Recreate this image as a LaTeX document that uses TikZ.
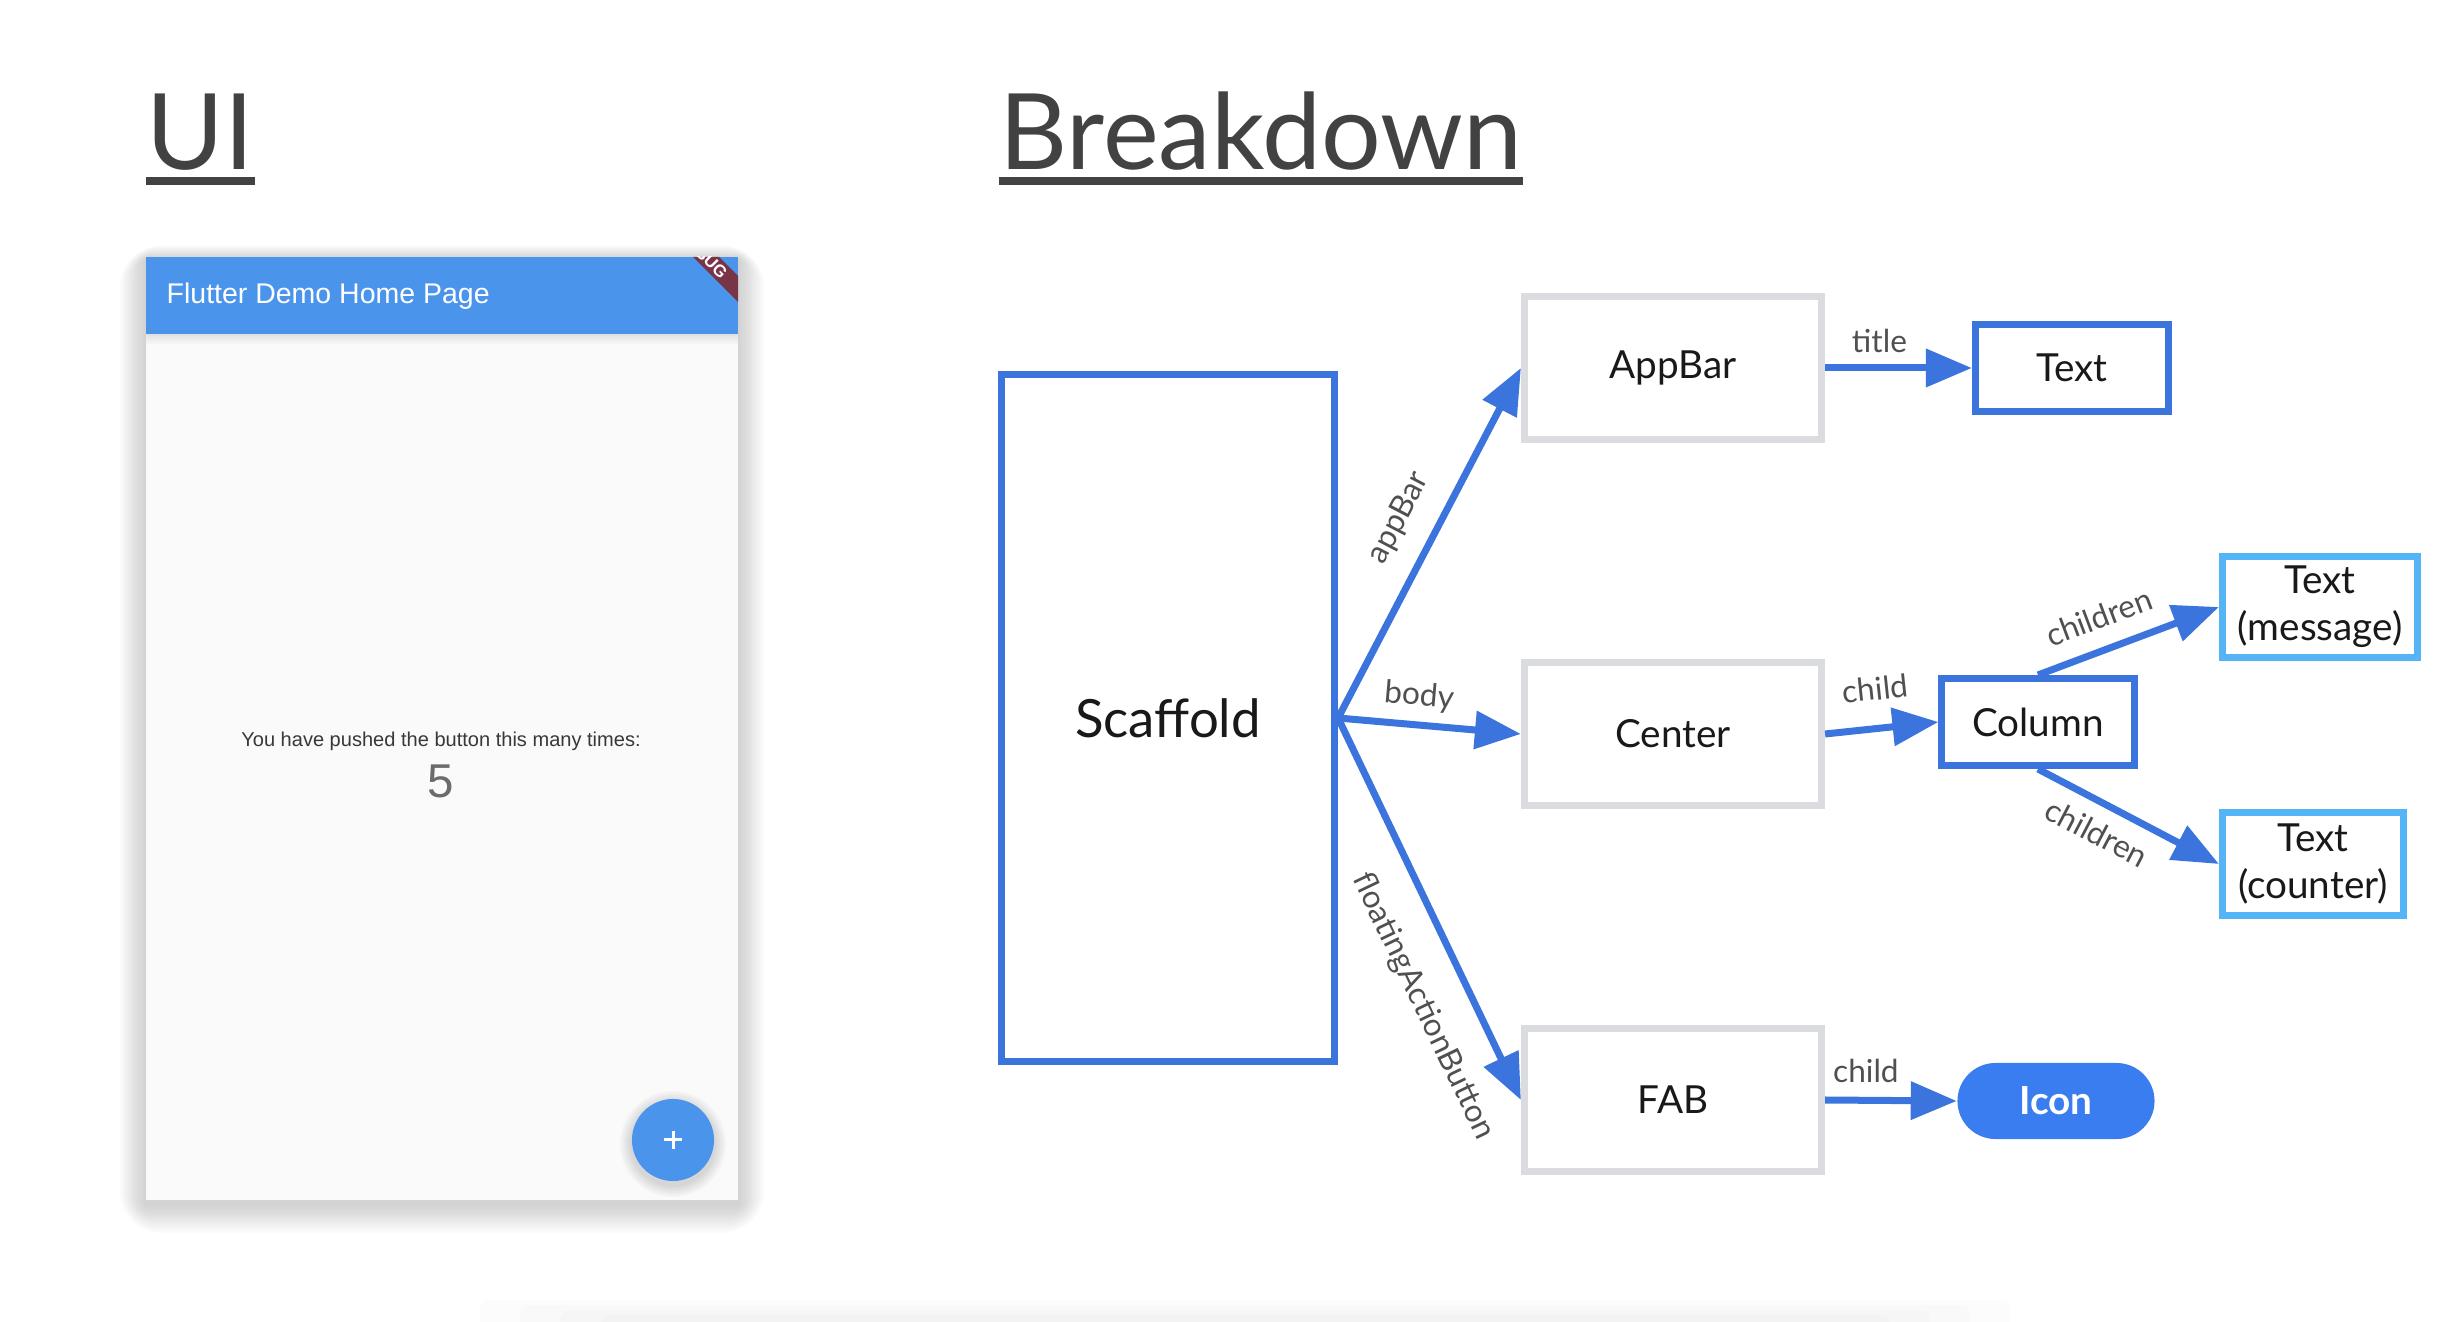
\documentclass[tikz,border=0pt]{standalone}
\usepackage{fontspec}
\setmainfont{Lato}
\newfontfamily\phonefont{Liberation Sans}
\usetikzlibrary{arrows.meta, positioning}

\definecolor{flblue}{RGB}{59,116,221}
\definecolor{fllight}{RGB}{84,180,245}
\definecolor{flgray}{RGB}{218,220,224}
\definecolor{flpill}{RGB}{57,125,240}
\definecolor{hdrblue}{RGB}{74,148,236}
\definecolor{ttlgray}{RGB}{66,66,66}
\definecolor{lblgray}{RGB}{80,80,80}
\definecolor{dbgred}{RGB}{122,52,72}
\definecolor{bodybg}{RGB}{250,250,250}

\begin{document}
\begin{tikzpicture}[x=0.01cm, y=-0.01cm,
  every node/.style={font=\fontsize{11}{13.4}\selectfont},
  ttl/.style={font=\fontsize{30}{36}\selectfont, text=ttlgray, inner sep=0pt, anchor=base west},
  widget/.style={rectangle, draw=#1, line width=0.07cm, fill=white, align=center,
                 text=black!90, minimum width=2.97cm, minimum height=1.43cm, inner sep=2pt},
  pill/.style={rectangle, rounded corners=0.38cm, fill=flpill, text=white,
               font=\fontsize{11}{13}\selectfont\bfseries, minimum width=1.97cm, minimum height=0.76cm},
  arr/.style={-{Triangle[length=0.46cm, width=0.37cm]}, line width=0.07cm, flblue},
  lbl/.style={font=\fontsize{9}{11}\selectfont, text=lblgray, inner sep=1pt},
  phonetxt/.style={font=\phonefont\fontsize{#1}{#1}\selectfont, inner sep=0pt},
]

\useasboundingbox (0,0) rectangle (2456,1322);

% Titres
\node[ttl] (ttl-ui) at (146,170) {UI};
\node[ttl] (ttl-bd) at (999,170) {Breakdown};
\foreach \t in {ttl-ui,ttl-bd}
  \draw[ttlgray, line width=0.08cm] ([yshift=-0.11cm]\t.base west) -- ([yshift=-0.11cm]\t.base east);

% Phone mock-up (shadow, body, app bar)
\foreach \i in {1,...,12}
  \fill[black, opacity=0.016, rounded corners=\i] (146-2.2*\i,257-1.2*\i+3) rectangle (738+2.2*\i,1200+2.4*\i+4);
\fill[bodybg] (146,257) rectangle (738,1200);
\foreach \i in {1,...,5}
  \fill[black, opacity=0.02] (146,334) rectangle (738,334+2*\i);
\fill[hdrblue] (146,257) rectangle (738,334);
\node[phonetxt=8.1, text=white, anchor=west] (hdr) at (166,296) {Flutter Demo Home Page};

% Debug banner
\begin{scope}
  \clip (146,257) rectangle (738,1200);
  \fill[dbgred] (693,257) -- (719,257) -- (760,298) -- (760,324) -- cycle;
  \node[text=white, font=\phonefont\bfseries\fontsize{4.8}{5}\selectfont, inner sep=0pt,
        rotate=-45] (dbg) at (703,254) {DEBUG};
\end{scope}

% Counter
\node[phonetxt=5.7, text=black!78] (msg) at (441,741) {You have pushed the button this many times:};
\node[phonetxt=13.5, text=black!58] (cnt) at (441,781) {5};

% FAB
\foreach \i in {1,...,6}
  \fill[black, opacity=0.025] (673,1144) circle ({0.41cm+\i*0.02cm});
\fill[hdrblue] (673,1140) circle (0.41cm);
\draw[white, line width=0.03cm] (664,1140) -- (682,1140) (673,1131) -- (673,1149);

% Widget tree
\node[widget=flblue, minimum width=3.33cm, minimum height=6.87cm,
      font=\fontsize{15}{18}\selectfont] (scaffold) at (1168,718) {Scaffold};
\node[widget=flgray] (appbar) at (1673,368) {AppBar};
\node[widget=flgray] (ctr)    at (1673,734) {Center};
\node[widget=flgray] (fab)    at (1673,1100) {FAB};
\node[widget=flblue, minimum width=1.93cm, minimum height=0.87cm] (titletxt) at (2072,368) {Text};
\node[widget=flblue, minimum width=1.92cm, minimum height=0.87cm] (column) at (2038,722) {Column};
\node[widget=fllight, minimum width=1.95cm, minimum height=1.01cm] (msgtxt) at (2320,607) {Text\\(message)};
\node[widget=fllight, minimum width=1.81cm, minimum height=1.02cm] (cnttxt) at (2313,864) {Text\\(counter)};
\node[pill] (icon) at (2056,1101) {Icon};

% Scaffold -> children
\draw[arr] (scaffold.east) -- (appbar.west)
  node[lbl, sloped, above=5pt, pos=0.52] {appBar};
\draw[arr] (scaffold.east) -- (ctr.west)
  node[lbl, sloped, above=2pt, pos=0.43] {body};
\draw[arr] (scaffold.east) -- (fab.west)
  node[lbl, sloped, below=7.5pt, pos=0.70] {floatingActionButton};

% AppBar, Center, FAB -> children
\draw[arr] (appbar.east) -- (titletxt.west)
  node[lbl, above=2.3pt, pos=0.37] {title};
\draw[arr] (ctr.east) -- (column.west)
  node[lbl, sloped, above=6pt, pos=0.48] {child};
\draw[arr] (fab.east) -- (icon.west)
  node[lbl, above=3pt, pos=0.31] {child};

% Column -> children
\draw[arr] (column.north) -- (msgtxt.west)
  node[lbl, sloped, above=4pt, pos=0.40] {children};
\draw[arr] (column.south) -- (cnttxt.west)
  node[lbl, sloped, below=3pt, pos=0.40] {children};

% Bottom shadow
\foreach \i in {0,...,3}
  \fill[black, opacity=0.012, rounded corners=0.1cm] (480+40*\i,1300+5*\i) rectangle (2010-40*\i,1340);

\end{tikzpicture}
\end{document}
